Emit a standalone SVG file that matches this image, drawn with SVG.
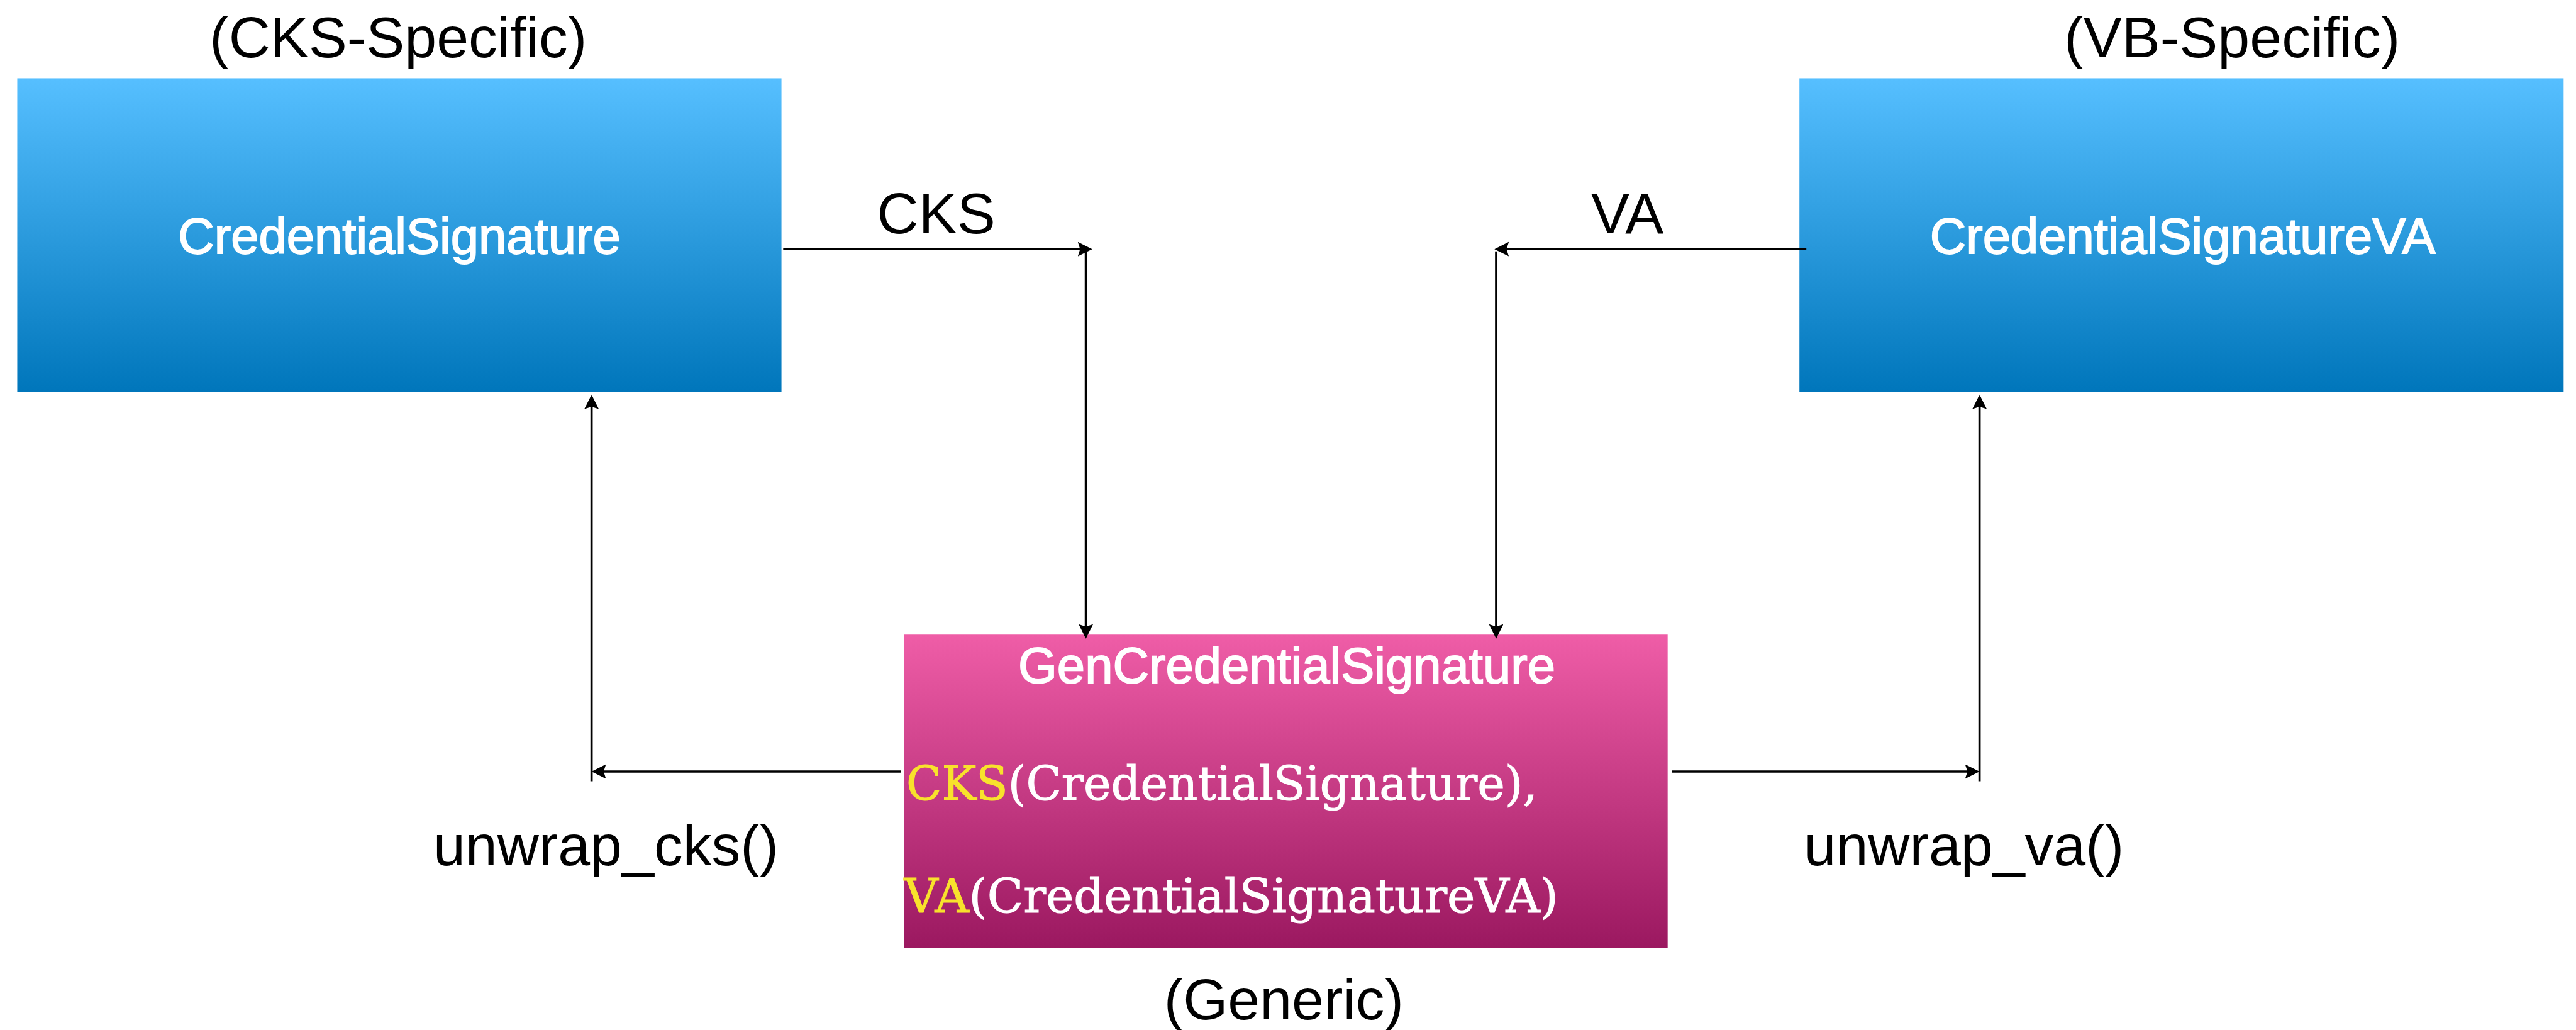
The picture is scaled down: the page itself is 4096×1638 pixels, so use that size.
<svg xmlns="http://www.w3.org/2000/svg" width="4096" height="1638" viewBox="0 0 4096 1638">
  <defs>
    <linearGradient id="blueGrad" x1="0" y1="0" x2="0" y2="1">
      <stop offset="0" stop-color="#56BFFF"/>
      <stop offset="1" stop-color="#0076BB"/>
    </linearGradient>
    <linearGradient id="pinkGrad" x1="0" y1="0" x2="0" y2="1">
      <stop offset="0" stop-color="#EF5DA7"/>
      <stop offset="1" stop-color="#9B1860"/>
    </linearGradient>
    <marker id="arrow" markerUnits="userSpaceOnUse" markerWidth="26" markerHeight="26" viewBox="0 0 26 26" refX="20" refY="12.5" orient="auto">
      <path d="M0,0 L25,12.5 L0,25 L4,12.5 Z" fill="#000"/>
    </marker>
    <style>
      .lbl { font-family: "Liberation Sans", Arial, sans-serif; font-size: 100px; fill: #000; text-anchor: middle; }
      .title { font-family: "Liberation Sans", Arial, sans-serif; font-size: 87px; fill: #fff; stroke: #fff; stroke-width: 2px; text-anchor: middle; }
      .code { font-family: "DejaVu Serif", "Liberation Serif", serif; font-size: 82px; fill: #fff; stroke: #fff; stroke-width: 1.2px; }
      .kw { fill: #F8E22C; stroke: #F8E22C; }
      .conn { fill: none; stroke: #000; stroke-width: 4; marker-end: url(#arrow); }
    </style>
  </defs>
  <rect x="0" y="0" width="4096" height="1638" fill="#fff"/>
  <g transform="scale(0.915)">
    <g id="node-cks">
      <rect x="30" y="136" width="1328" height="545" fill="url(#blueGrad)"/>
      <text class="title" x="694" y="441">CredentialSignature</text>
      <text class="lbl" x="692" y="100">(CKS-Specific)</text>
    </g>
    <g id="node-va">
      <rect x="3127" y="136" width="1328" height="545" fill="url(#blueGrad)"/>
      <text class="title" x="3793" y="441">CredentialSignatureVA</text>
      <text class="lbl" x="3879" y="100">(VB-Specific)</text>
    </g>
    <g id="node-gen">
      <rect x="1571" y="1103" width="1327" height="545" fill="url(#pinkGrad)"/>
      <text class="title" x="2236" y="1187">GenCredentialSignature</text>
      <text class="code" x="1575" y="1390" textLength="1097" lengthAdjust="spacingAndGlyphs"><tspan class="kw">CKS</tspan>(CredentialSignature),</text>
      <text class="code" x="1571" y="1586" textLength="1137" lengthAdjust="spacingAndGlyphs"><tspan class="kw">VA</tspan>(CredentialSignatureVA)</text>
      <text class="lbl" x="2231" y="1772">(Generic)</text>
    </g>
    <g id="connectors">
      <path class="conn" d="M1361,433 H1893"/>
      <path class="conn" d="M1887,437 V1105"/>
      <path class="conn" d="M3139,433 H2602"/>
      <path class="conn" d="M2600,437 V1105"/>
      <path class="conn" d="M1565,1341 H1033"/>
      <path class="conn" d="M1028,1358 V691"/>
      <path class="conn" d="M2905,1341 H3435"/>
      <path class="conn" d="M3440,1358 V691"/>
      <text class="lbl" x="1627" y="406">CKS</text>
      <text class="lbl" x="2828" y="406">VA</text>
      <text class="lbl" x="1053" y="1504">unwrap_cks()</text>
      <text class="lbl" x="3413" y="1504">unwrap_va()</text>
    </g>
  </g>
</svg>
